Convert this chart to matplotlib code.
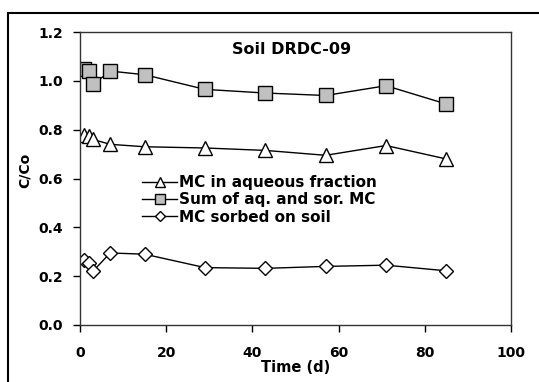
import matplotlib.pyplot as plt
from matplotlib.patches import Rectangle

# data
time_d = [1, 2, 3, 7, 15, 29, 43, 57, 71, 85]
mc_aqueous = [0.78, 0.775, 0.76, 0.74, 0.73, 0.725, 0.715, 0.695, 0.735, 0.68]
mc_sum = [1.05, 1.04, 0.985, 1.04, 1.025, 0.965, 0.95, 0.94, 0.98, 0.905]
mc_sorbed = [0.265, 0.255, 0.22, 0.295, 0.29, 0.235, 0.232, 0.24, 0.245, 0.222]

plt.rcParams['font.family'] = ['DejaVu Sans']
plt.rcParams['font.weight'] = 'bold'

fig = plt.figure(figsize=(5.39, 3.82), dpi=100)
ax = fig.add_axes([80 / 539, 1 - 325 / 382, 431 / 539, 293 / 382])

ax.plot(time_d, mc_aqueous, color='black', lw=1, marker='^', ms=10.5,
        mfc='white', mec='black', mew=1, label='MC in aqueous fraction')
ax.plot(time_d, mc_sum, color='black', lw=1, marker='s', ms=10,
        mfc='#c0c0c0', mec='black', mew=1, label='Sum of aq. and sor. MC')
ax.plot(time_d, mc_sorbed, color='black', lw=1, marker='D', ms=7,
        mfc='white', mec='black', mew=1, label='MC sorbed on soil')

ax.set_xlim(0, 100)
ax.set_ylim(0, 1.2)
ax.set_xticks([0, 20, 40, 60, 80, 100])
ax.set_yticks([0, 0.2, 0.4, 0.6, 0.8, 1.0, 1.2])
ax.set_yticklabels(['0.0', '0.2', '0.4', '0.6', '0.8', '1.0', '1.2'])
ax.tick_params(direction='out', length=5, width=1, labelsize=10)
ax.tick_params(axis='x', pad=10)
ax.tick_params(axis='y', pad=7)
for lab in ax.get_xticklabels() + ax.get_yticklabels():
    lab.set_fontweight('bold')
for s in ax.spines.values():
    s.set_linewidth(1)
    s.set_color('#333333')

ax.set_xlabel('Time (d)', fontsize=10.5, fontweight='bold')
ax.xaxis.set_label_coords(0.5, -0.12)
ax.set_ylabel('C/Co', fontsize=10, fontweight='bold')
ax.yaxis.set_label_coords(-0.111, 0.529)
ax.text(0.492, 0.939, 'Soil DRDC-09', transform=ax.transAxes, ha='center',
        va='center', fontsize=11.5, fontweight='bold')

leg = ax.legend(loc='upper left', bbox_to_anchor=((142 - 80) / 431, (325 - 175) / 293),
                frameon=False, fontsize=11, handlelength=2.3, handletextpad=0.15,
                labelspacing=0.15, borderaxespad=0, borderpad=0, markerscale=0.7)
for t in leg.get_texts():
    t.set_fontweight('bold')

# outer frame of the chart area (only top and left sides visible)
fig.patches.append(Rectangle((8 / 539, -0.1), 1.2, 1 - 13 / 382 + 0.1, fill=False,
                             lw=1.5, ec='black', transform=fig.transFigure))

fig.savefig('out.png', dpi=100)
